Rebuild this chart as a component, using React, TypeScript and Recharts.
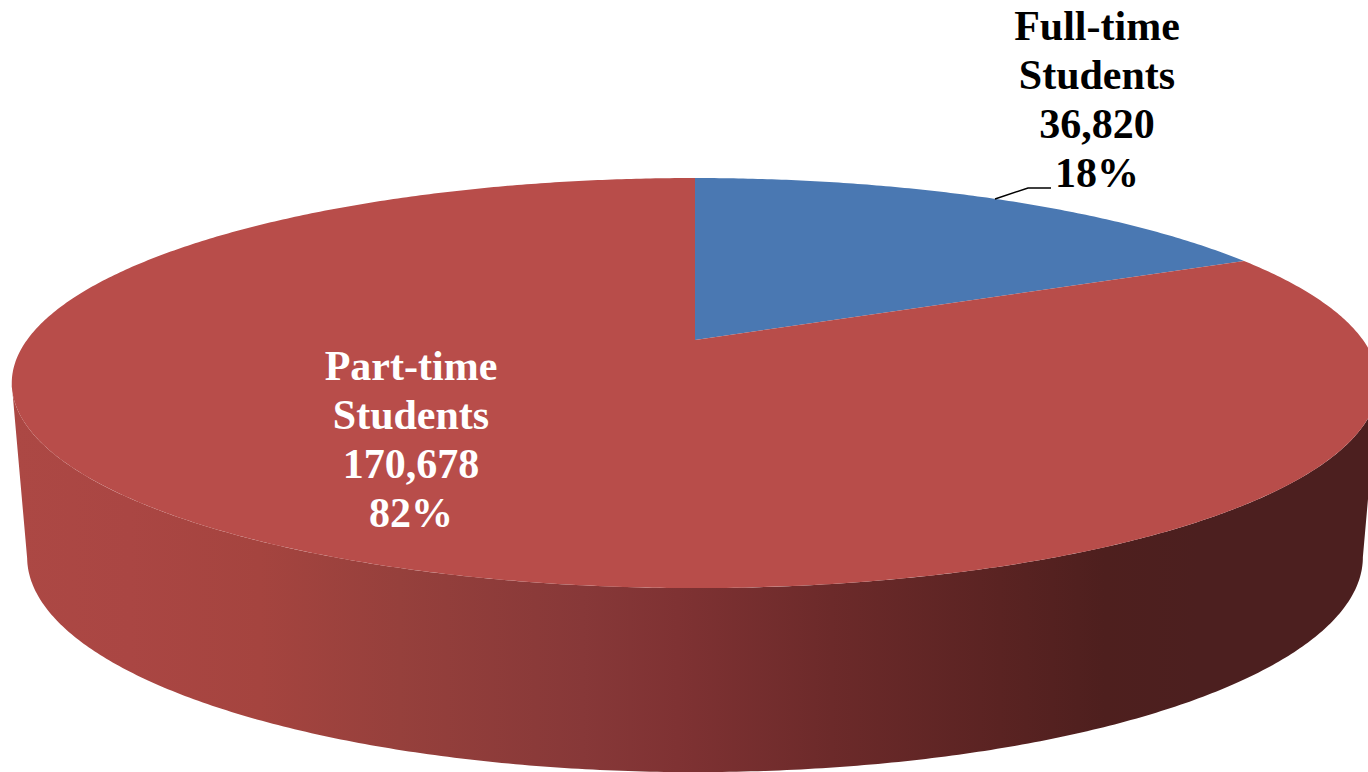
import { PieChart, Pie } from 'recharts';

const names = ['Full-time', 'Part-time'];
const values = [36820, 170678];
const percents = ['18%', '82%'];
const sliceColors = ['#4A78B2', '#B84D4A'];
const labelColors = ['#000000', '#FFFFFF'];

const wallStops: [number, string][] = [
  [0, '#AC4844'],
  [0.085, '#AA4643'],
  [0.18, '#A5443F'],
  [0.283, '#96403C'],
  [0.418, '#873838'],
  [0.487, '#7F3233'],
  [0.6, '#6C2A2A'],
  [0.724, '#5A2322'],
  [0.8, '#4E1F1E'],
  [0.87, '#4C1F1F'],
  [1, '#4C1F1F'],
];

const data = names.map((name, i) => ({ name, value: values[i], fill: sliceColors[i] }));

// perspective of the pie, rim of the top face and of the bottom face
const TILT = 0.21;
const TOP_DEPTH = 196;
const BOTTOM_DEPTH = 205.5;
const BOTTOM_WIDTH = 0.9775;
const BOTTOM_DROP = 172;

const project = (cx: number, cy: number, r: number, depth: number, deg: number) => {
  const t = (deg * Math.PI) / 180;
  const d = 1 + TILT * Math.cos(t);
  return [cx + (r * Math.sin(t)) / d, cy - (depth * Math.cos(t)) / d];
};

const toPath = (pts: number[][]) =>
  pts.map((p, i) => `${i ? 'L' : 'M'}${p[0].toFixed(2)},${p[1].toFixed(2)}`).join(' ');

function Slice3D(props: any) {
  const { cx, cy, outerRadius, startAngle, endAngle, fill, index } = props;
  const from = 90 - startAngle;
  const to = 90 - endAngle;

  const rim: number[][] = [];
  for (let d = from; d < to; d += 0.5) rim.push(project(cx, cy, outerRadius, TOP_DEPTH, d));
  rim.push(project(cx, cy, outerRadius, TOP_DEPTH, to));

  // the side wall only shows between the two widest points of the rim
  const edge = (Math.acos(-TILT) * 180) / Math.PI;
  const wallFrom = Math.max(from, edge);
  const wallTo = Math.min(to, 360 - edge);
  const upper: number[][] = [];
  const lower: number[][] = [];
  for (let d = wallFrom; d <= wallTo; d += 0.5) {
    upper.push(project(cx, cy, outerRadius, TOP_DEPTH, d));
    lower.push(project(cx, cy + BOTTOM_DROP, outerRadius * BOTTOM_WIDTH, BOTTOM_DEPTH, d));
  }
  const gradId = `wall-${index}`;

  return (
    <g>
      {wallTo > wallFrom && (
        <>
          <defs>
            <linearGradient id={gradId} gradientUnits="userSpaceOnUse" x1={cx - outerRadius * 1.02} y1={0} x2={cx + outerRadius * 1.02} y2={0}>
              {wallStops.map(([o, c]) => (
                <stop key={o} offset={o} stopColor={c} />
              ))}
            </linearGradient>
          </defs>
          <path d={`${toPath(upper)} ${toPath([...lower].reverse()).replace('M', 'L')} Z`} fill={`url(#${gradId})`} />
        </>
      )}
      <path d={`M${cx},${cy} ${toPath(rim).replace('M', 'L')} Z`} fill={fill} />
    </g>
  );
}

const labelCenters = [1097, 411];
const labelFirstLine = [40, 380];
const LINE_STEP = 49;

function SliceLabel(props: any) {
  const { index } = props;
  const lines = [names[index], 'Students', values[index].toLocaleString('en-US'), percents[index]];
  return (
    <g>
      {index === 0 && <polyline points="995,199 1028,188 1051,188" fill="none" stroke="#000000" strokeWidth={1.5} />}
      <text
        textAnchor="middle"
        fontFamily="'Liberation Serif', serif"
        fontWeight="bold"
        fontSize={42}
        fill={labelColors[index]}
      >
        {lines.map((line, i) => (
          <tspan key={i} x={labelCenters[index]} y={labelFirstLine[index] + i * LINE_STEP}>
            {line}
          </tspan>
        ))}
      </text>
    </g>
  );
}

export default function App() {
  return (
    <div style={{ position: 'absolute', left: 0, top: 0, width: 1368, height: 772, overflow: 'hidden', background: '#FFFFFF' }}>
      <PieChart width={1368} height={772} margin={{ top: 0, right: 0, bottom: 0, left: 0 }}>
        <Pie
          data={data}
          dataKey="value"
          nameKey="name"
          cx={695}
          cy={340}
          innerRadius={0}
          outerRadius={668}
          startAngle={90}
          endAngle={-270}
          paddingAngle={0}
          stroke="none"
          shape={Slice3D}
          label={SliceLabel}
          labelLine={false}
          isAnimationActive={false}
        />
      </PieChart>
    </div>
  );
}
